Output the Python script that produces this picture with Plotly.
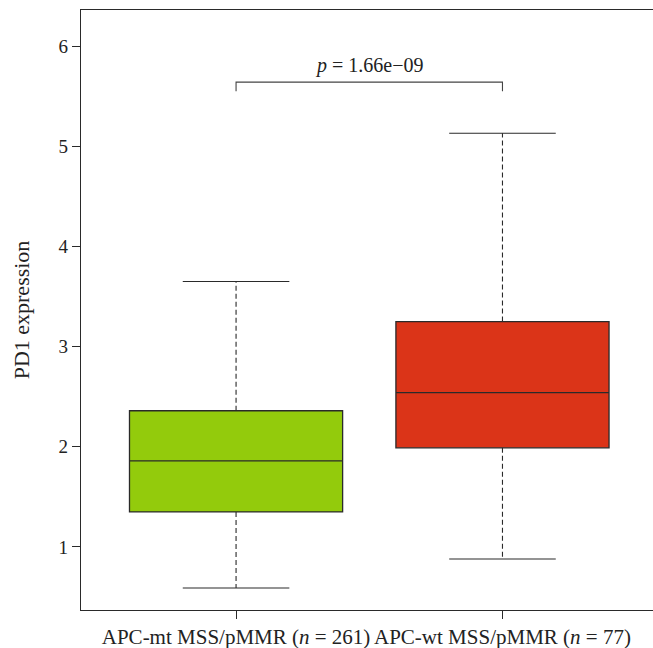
import plotly.graph_objects as go

# Data
categories = ["APC-mt MSS/pMMR (<i>n</i> = 261)", "APC-wt MSS/pMMR (<i>n</i> = 77)"]
positions = [1, 2]
lower_whisker = [0.59, 0.88]
q1 = [1.35, 1.99]
median = [1.86, 2.54]
q3 = [2.36, 3.25]
upper_whisker = [3.65, 5.13]
colors = ["#93CB0C", "#DB3418"]
p_label = "<i>p</i> = 1.66e\u221209"
bracket_y = 5.64
bracket_drop = 0.09
y_ticks = [1, 2, 3, 4, 5, 6]

FONT = "Liberation Serif"
LINE = "#2a2a2a"
box_w = 0.8
cap_w = 0.4

fig = go.Figure()

for i in range(2):
    x = positions[i]
    fig.add_trace(go.Box(
        x=[x], q1=[q1[i]], median=[median[i]], q3=[q3[i]],
        lowerfence=[q1[i]], upperfence=[q3[i]],
        width=box_w, fillcolor=colors[i],
        line=dict(color=LINE, width=1.3),
        whiskerwidth=0, boxpoints=False, showlegend=False, hoverinfo="skip",
    ))
    # dashed whiskers
    fig.add_trace(go.Scatter(
        x=[x, x, None, x, x],
        y=[q3[i], upper_whisker[i], None, q1[i], lower_whisker[i]],
        mode="lines", line=dict(color=LINE, width=1.1, dash="5px,3px"),
        showlegend=False, hoverinfo="skip",
    ))
    # caps
    fig.add_trace(go.Scatter(
        x=[x - cap_w / 2, x + cap_w / 2, None, x - cap_w / 2, x + cap_w / 2],
        y=[upper_whisker[i], upper_whisker[i], None, lower_whisker[i], lower_whisker[i]],
        mode="lines", line=dict(color=LINE, width=1.1),
        showlegend=False, hoverinfo="skip",
    ))

# significance bracket
fig.add_trace(go.Scatter(
    x=[positions[0], positions[0], positions[1], positions[1]],
    y=[bracket_y - bracket_drop, bracket_y, bracket_y, bracket_y - bracket_drop],
    mode="lines", line=dict(color="#444444", width=1.1),
    showlegend=False, hoverinfo="skip",
))
fig.add_annotation(
    x=(positions[0] + positions[1]) / 2, y=bracket_y, yshift=3,
    text=p_label, showarrow=False, yanchor="bottom",
    font=dict(family=FONT, size=20, color="#222222"),
)

fig.update_layout(
    width=653, height=648,
    margin=dict(l=81, r=0, t=10, b=38),
    paper_bgcolor="white", plot_bgcolor="white",
    font=dict(family=FONT, size=19, color="#222222"),
    xaxis=dict(
        range=[0.418, 2.565], tickvals=positions, ticktext=categories,
        showline=True, linecolor=LINE, linewidth=1.3, mirror=True,
        ticks="outside", ticklen=8, tickcolor=LINE, tickwidth=1,
        showgrid=False, zeroline=False, tickfont=dict(family=FONT, size=21),
    ),
    yaxis=dict(
        range=[0.371, 6.36], tickvals=y_ticks,
        showline=True, linecolor=LINE, linewidth=1.3, mirror=False,
        ticks="outside", ticklen=8, tickcolor=LINE, tickwidth=1,
        showgrid=False, zeroline=False, tickfont=dict(family=FONT, size=19),
        title=dict(text="PD1 expression", font=dict(family=FONT, size=22), standoff=22),
    ),
)

fig.write_html(
    "out.html",
    config={"displayModeBar": False},
    post_script="document.body.style.margin='0';document.body.style.overflow='hidden';",
)
